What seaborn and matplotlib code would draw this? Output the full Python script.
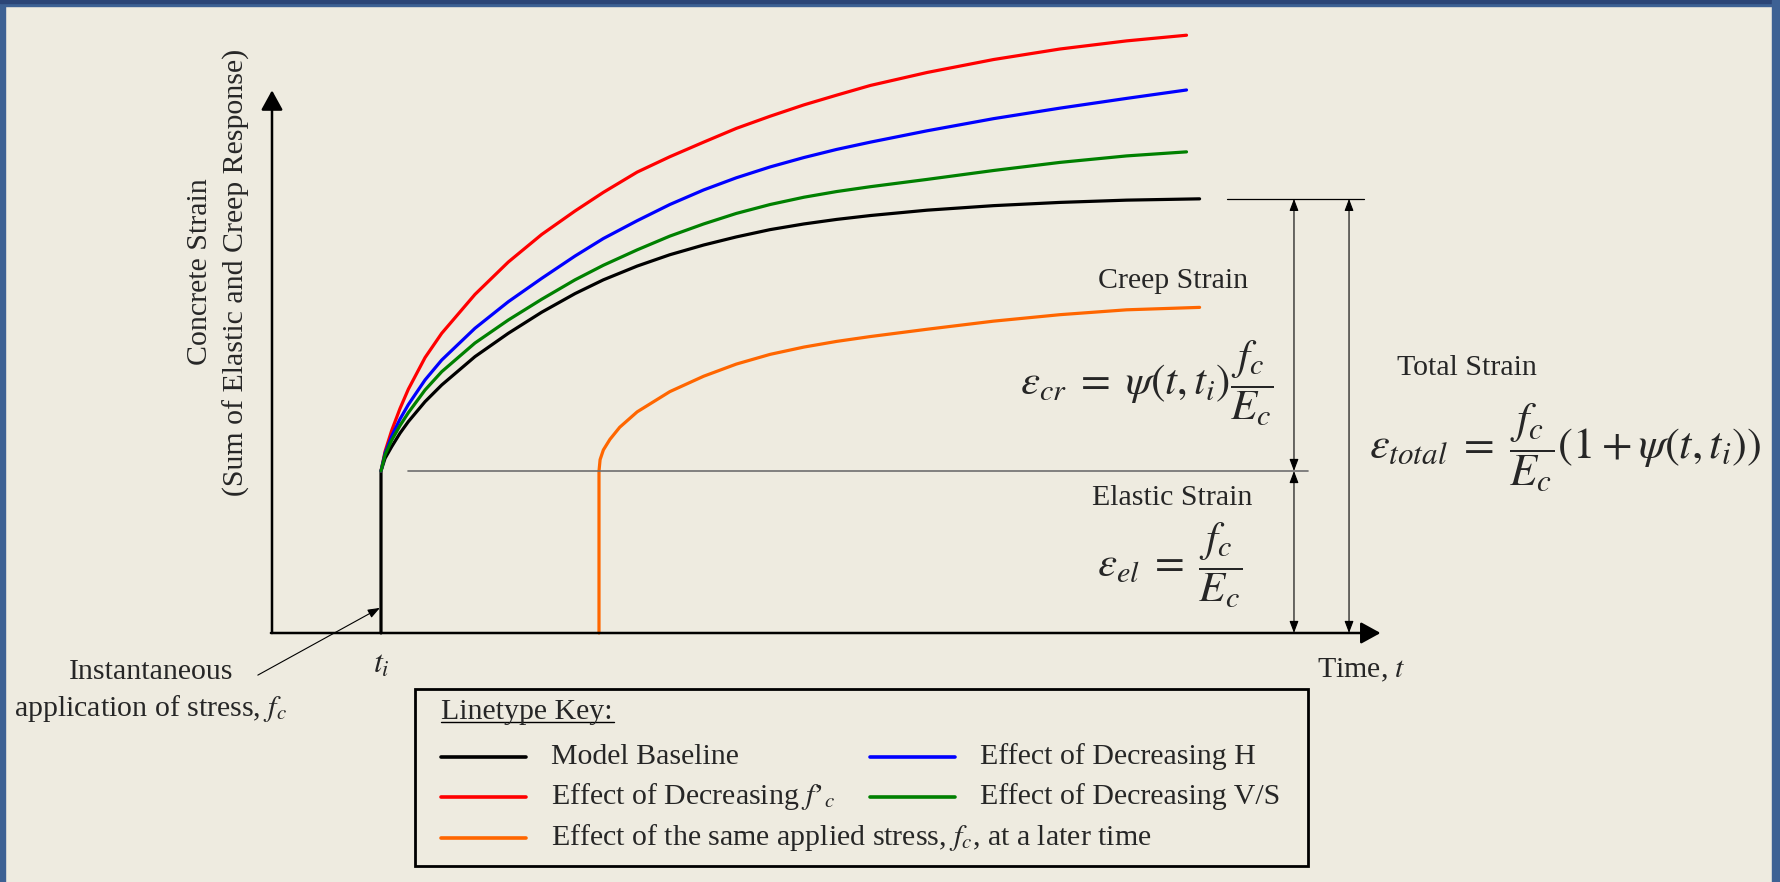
import matplotlib
matplotlib.use("Agg")
import matplotlib.pyplot as plt
from matplotlib.patches import Rectangle
import pandas as pd
import seaborn as sns

# time in units of t_i, strain in units of the elastic strain f_c/E_c
t_i = 1.0
t_later = 3.0

time_curves = [1.0, 1.037, 1.098, 1.174, 1.251, 1.404, 1.557, 1.862, 2.168, 2.474, 2.78, 3.04,
               3.35, 3.65, 3.96, 4.26, 4.57, 4.88, 5.18, 5.49, 6.01, 6.62, 7.23, 7.84, 8.39]
strain_red = [1.0, 1.12, 1.25, 1.385, 1.505, 1.70, 1.85, 2.09, 2.29, 2.46, 2.605, 2.72,
              2.845, 2.94, 3.03, 3.115, 3.19, 3.26, 3.32, 3.38, 3.46, 3.54, 3.605, 3.655, 3.69]
strain_blue = [1.0, 1.109, 1.215, 1.32, 1.41, 1.562, 1.685, 1.881, 2.045, 2.189, 2.327, 2.435,
               2.545, 2.645, 2.735, 2.81, 2.877, 2.935, 2.985, 3.03, 3.10, 3.175, 3.24, 3.30, 3.352]
strain_green = [1.0, 1.10, 1.19, 1.28, 1.36, 1.50, 1.613, 1.79, 1.932, 2.06, 2.18, 2.27,
                2.365, 2.45, 2.525, 2.59, 2.645, 2.69, 2.725, 2.755, 2.80, 2.855, 2.905, 2.945, 2.97]

time_black = [1.0, 1.0, 1.037, 1.098, 1.174, 1.251, 1.404, 1.557, 1.862, 2.168, 2.474, 2.78, 3.04,
              3.35, 3.65, 3.96, 4.26, 4.57, 4.88, 5.18, 5.49, 6.01, 6.62, 7.23, 7.84, 8.51]
strain_black = [0.0, 1.0, 1.078, 1.150, 1.233, 1.305, 1.428, 1.531, 1.706, 1.85, 1.98, 2.095, 2.18,
                2.265, 2.335, 2.395, 2.445, 2.49, 2.525, 2.553, 2.577, 2.61, 2.638, 2.658, 2.672, 2.68]

time_orange = [3.0, 3.0, 3.01, 3.04, 3.10, 3.19, 3.35, 3.65, 3.96, 4.26, 4.57, 4.88, 5.18,
               5.49, 6.01, 6.62, 7.23, 7.84, 8.51]
strain_orange = [0.0, 1.0, 1.07, 1.13, 1.195, 1.27, 1.365, 1.49, 1.585, 1.66, 1.72, 1.765, 1.80,
                 1.83, 1.875, 1.925, 1.965, 1.995, 2.01]

series_names = ["Model Baseline", "Effect of the same applied stress, $f_c$, at a later time",
                "Effect of Decreasing $f$\u2019$_c$", "Effect of Decreasing H",
                "Effect of Decreasing V/S"]
series_colors = ["#000000", "#FF6600", "#FF0000", "#0000FF", "#008000"]

elastic_strain = strain_black[1]
total_strain = strain_black[-1]

frames = []
for name, t, s in zip(series_names,
                      [time_black, time_orange, time_curves, time_curves, time_curves],
                      [strain_black, strain_orange, strain_red, strain_blue, strain_green]):
    frames.append(pd.DataFrame({"time": t, "strain": s, "series": name}))
df = pd.concat(frames, ignore_index=True)

sns.set_theme(style="white")
plt.rcParams["font.family"] = ["Liberation Serif", "DejaVu Serif"]
plt.rcParams["mathtext.fontset"] = "stix"

bg = "#EEEBE0"
frame_blue = "#3D6194"
fig = plt.figure(figsize=(17.81, 8.82), dpi=100, facecolor=bg)
ax = fig.add_axes([0, 0, 1, 1])
ax.set_axis_off()

# thin blue slide frame
fig.patches.append(Rectangle((0, 0), 5 / 1781, 1, transform=fig.transFigure, color=frame_blue))
fig.patches.append(Rectangle((0, 1 - 6 / 882), 1, 6 / 882, transform=fig.transFigure, color=frame_blue))
fig.patches.append(Rectangle((0, 1 - 3 / 882), 1, 3 / 882, transform=fig.transFigure, color="#2B4577"))
fig.patches.append(Rectangle((1 - 9 / 1781, 0), 9 / 1781, 1, transform=fig.transFigure, color=frame_blue))

sns.lineplot(data=df, x="time", y="strain", hue="series", hue_order=series_names,
             palette=dict(zip(series_names, series_colors)), sort=False, estimator=None,
             linewidth=2.3, legend=False, ax=ax)
for line in ax.get_lines():
    line.set_solid_joinstyle("round")

ax.set_xlim(-272 / 109, (1781 - 272) / 109)
ax.set_ylim(-(882 - 633) / 162, 633 / 162)

# axes as arrows
axis_arrow = dict(arrowstyle="-|>,head_length=0.4,head_width=0.22", lw=1.8, color="black",
                  mutation_scale=30, shrinkA=0, shrinkB=0)
ax.annotate("", xy=(0, 3.35), xytext=(0, 0), arrowprops=axis_arrow)
ax.annotate("", xy=(10.17, 0), xytext=(-0.01, 0), arrowprops=axis_arrow)

# elastic level line and total level line
ax.plot([1.25, 9.5], [elastic_strain, elastic_strain], color="#6E6E6E", lw=1.2)
ax.plot([8.76, 10.02], [total_strain, total_strain], color="black", lw=0.9)

dim_arrow = dict(arrowstyle="<|-|>,head_length=0.45,head_width=0.17", lw=0.8, color="black",
                 mutation_scale=16, shrinkA=0, shrinkB=0)
ax.annotate("", xy=(9.376, total_strain), xytext=(9.376, elastic_strain), arrowprops=dim_arrow)
ax.annotate("", xy=(9.376, elastic_strain), xytext=(9.376, 0), arrowprops=dim_arrow)
ax.annotate("", xy=(9.881, total_strain), xytext=(9.881, 0), arrowprops=dim_arrow)

fs = 21.5
ax.text(-0.491, 2.228, "Concrete Strain\n(Sum of Elastic and Creep Response)", rotation=90,
        ha="center", va="center", multialignment="center", linespacing=1.48, fontsize=fs)
ax.text(t_i, -0.2, r"$t_i$", ha="center", va="center", fontsize=23)
ax.text(9.59, -0.23, r"Time, $t$", ha="left", va="center", fontsize=fs)

ax.text(-1.11, -0.24, "Instantaneous", ha="center", va="center", fontsize=fs)
ax.text(-1.11, -0.465, r"application of stress, $f_c$", ha="center", va="center", fontsize=fs)
ax.annotate("", xy=(0.99, 0.155), xytext=(-0.13, -0.26),
            arrowprops=dict(arrowstyle="-|>,head_length=0.45,head_width=0.17", lw=0.8,
                            color="black", mutation_scale=16, shrinkA=0, shrinkB=0))

ax.text(8.27, 2.17, "Creep Strain", ha="center", va="center", fontsize=fs)
ax.text(8.03, 1.54, r"$\varepsilon_{cr}\;=\;\psi\left(t,t_i\right)\dfrac{f_c}{E_c}$",
        ha="center", va="center", fontsize=31)
ax.text(8.26, 0.833, "Elastic Strain", ha="center", va="center", fontsize=fs)
ax.text(8.24, 0.42, r"$\varepsilon_{el}\;=\;\dfrac{f_c}{E_c}$", ha="center", va="center", fontsize=31)
ax.text(10.96, 1.636, "Total Strain", ha="center", va="center", fontsize=fs)
ax.text(11.86, 1.145,
        r"$\varepsilon_{total}\;=\;\dfrac{f_c}{E_c}\left(1+\psi\left(t,t_i\right)\right)$",
        ha="center", va="center", fontsize=32)

# linetype key box
ax.add_patch(Rectangle((1.312, -1.438), 9.505 - 1.312, 1.438 - 0.346, fill=False,
                       edgecolor="black", lw=2.0))
ax.text(1.55, -0.488, "Linetype Key:", ha="left", va="center", fontsize=fs)
ax.plot([1.55, 3.14], [-0.55, -0.55], color="black", lw=1.0)

key_rows = [-0.765, -1.012, -1.265]
slot_for = {0: (1.55, 0), 2: (1.55, 1), 1: (1.55, 2), 3: (5.486, 0), 4: (5.486, 1)}
for k, (x0, row) in slot_for.items():
    y = key_rows[row]
    ax.plot([x0, x0 + 0.78], [y, y], color=series_colors[k], lw=2.6)
    ax.text(x0 + 1.01, y, series_names[k], ha="left", va="center", fontsize=fs)

fig.savefig("out.png", dpi=100, facecolor=bg)
